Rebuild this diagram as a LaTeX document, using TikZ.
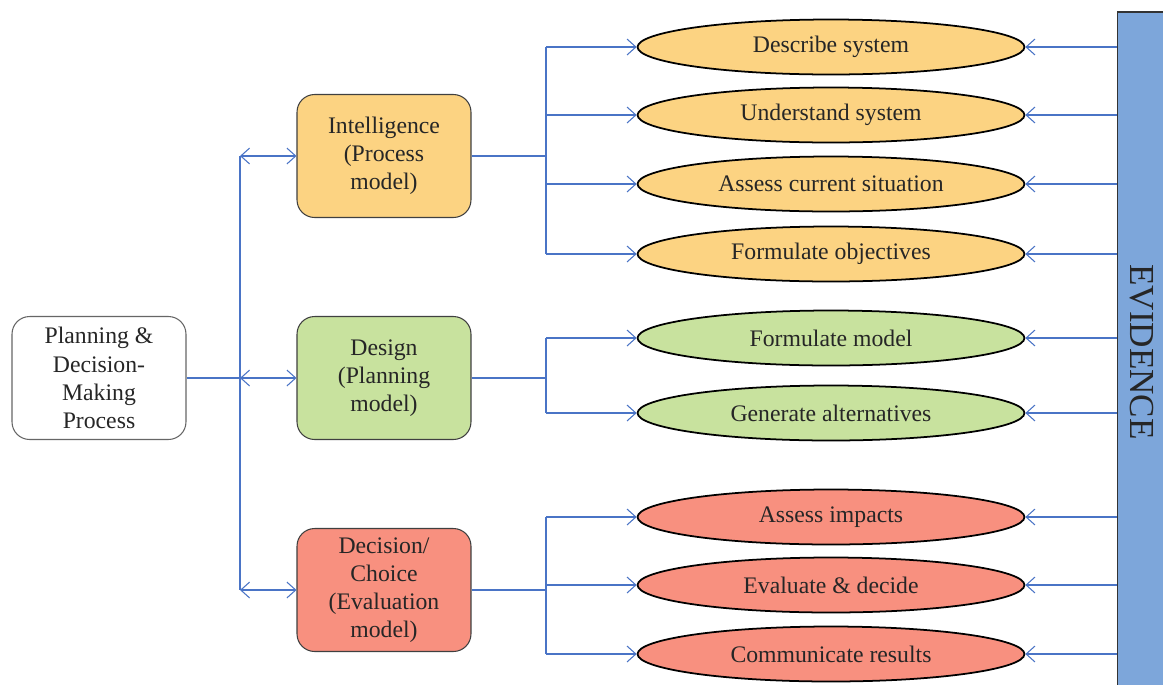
\documentclass[tikz,border=0pt]{standalone}
\usepackage{fontspec}
\setmainfont{Liberation Serif}
\usetikzlibrary{shapes.geometric,arrows.meta}
\definecolor{lineblue}{HTML}{4A74C6}
\definecolor{orfill}{HTML}{FCD382}
\definecolor{grfill}{HTML}{C8E29E}
\definecolor{rdfill}{HTML}{F8907F}
\definecolor{evfill}{HTML}{7DA6DA}
\tikzset{
  conn/.style={draw=lineblue, line width=0.6pt},
  arr/.style={conn, -{Straight Barb[length=5pt,width=9pt]}},
  darr/.style={conn, {Straight Barb[length=5pt,width=9pt]}-{Straight Barb[length=5pt,width=9pt]}},
  stagebox/.style={draw=black!75, line width=0.6pt, rounded corners=10pt, minimum width=3.48cm, minimum height=2.46cm, align=center, font=\fontsize{13.5}{16}\selectfont, text=black!85},
  task/.style={ellipse, draw=black, line width=1pt, minimum width=7.74cm, minimum height=1.1cm, inner sep=0pt, font=\fontsize{13.5}{16}\selectfont, text=black!85},
}
\begin{document}
\begin{tikzpicture}[x=0.02cm,y=-0.02cm]
\useasboundingbox (0,0) rectangle (1163,684);
\fill[white] (0,0) rectangle (1163,684);
% left process box
\node[stagebox, draw=black!60, fill=white] (plan) at (99,378) {Planning \&\\Decision-\\Making\\Process};
% stage boxes
\node[stagebox, fill=orfill] (intel) at (384,156) {Intelligence\\(Process\\model)};
\node[stagebox, fill=grfill] (design) at (384,378) {Design\\(Planning\\model)};
\node[stagebox, fill=rdfill] (dec) at (384,590) {Decision/\\Choice\\(Evaluation\\model)};
% task ellipses
\node[task, fill=orfill] (i1) at (831,47) {Describe system};
\node[task, fill=orfill] (i2) at (831,115) {Understand system};
\node[task, fill=orfill] (i3) at (831,184) {Assess current situation};
\node[task, fill=orfill] (i4) at (831,254) {Formulate objectives};
\node[task, fill=grfill] (d1) at (831,338) {Formulate model};
\node[task, fill=grfill] (d2) at (831,413) {Generate alternatives};
\node[task, fill=rdfill] (c1) at (831,517) {Assess impacts};
\node[task, fill=rdfill] (c2) at (831,585) {Evaluate \& decide};
\node[task, fill=rdfill] (c3) at (831,654) {Communicate results};
% evidence bar
\node[draw=black!80, line width=0.8pt, fill=evfill, rotate=-90, minimum width=13.6cm, minimum height=0.98cm, inner sep=0pt, font=\fontsize{20}{24}\selectfont, text=black!85] (ev) at (1142,352) {EVIDENCE};
% left bus
\coordinate (j) at (240,378);
\draw[conn] (plan.east) -- (j);
\draw[conn] (j |- intel.west) -- (j |- dec.west);
\draw[darr] (j |- intel.west) -- (intel.west);
\draw[darr] (j) -- (design.west);
\draw[darr] (j |- dec.west) -- (dec.west);
% intelligence bus
\coordinate (bi) at (546,156);
\draw[conn] (intel.east) -- (bi);
\draw[conn] (bi |- i1) -- (bi |- i4);
\foreach \t in {i1,i2,i3,i4} \draw[arr] (bi |- \t) -- (\t.west);
% design bus
\coordinate (bd) at (546,378);
\draw[conn] (design.east) -- (bd);
\draw[conn] (bd |- d1) -- (bd |- d2);
\foreach \t in {d1,d2} \draw[arr] (bd |- \t) -- (\t.west);
% decision bus
\coordinate (bc) at (546,590);
\draw[conn] (dec.east) -- (bc);
\draw[conn] (bc |- c1) -- (bc |- c3);
\foreach \t in {c1,c2,c3} \draw[arr] (bc |- \t) -- (\t.west);
% evidence arrows
\foreach \t in {i1,i2,i3,i4,d1,d2,c1,c2,c3} \draw[arr] (ev.south |- \t) -- (\t.east);
\end{tikzpicture}
\end{document}
